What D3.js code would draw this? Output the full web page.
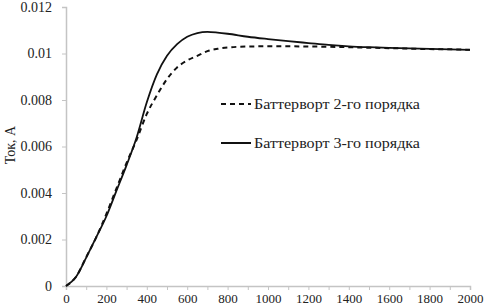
<!DOCTYPE html>
<html>
<head>
<meta charset="utf-8">
<script src="https://cdn.jsdelivr.net/npm/d3@7"></script>
<style>
  body { margin: 0; background: #fff; }
  text { font-family: "Liberation Serif", "Times New Roman", serif; fill: #222; }
</style>
</head>
<body>
<div id="chart"></div>
<script>
// data
const timeSteps = [0, 50, 100, 150, 200, 250, 300, 350, 400, 450, 500, 550, 600, 650, 700, 750, 800,
  900, 1000, 1100, 1200, 1300, 1400, 1500, 1600, 1700, 1800, 1900, 2000];
const butter2 = [0, 0.0004, 0.00124, 0.0021, 0.0031, 0.0042, 0.0053, 0.0063, 0.0074, 0.0082, 0.0089,
  0.0094, 0.0097, 0.0099, 0.0101, 0.0102, 0.01026,
  0.0103, 0.01031, 0.01031, 0.0103, 0.01029, 0.01027, 0.01025, 0.01023, 0.01021, 0.01019, 0.01018, 0.01016];
const butter3 = [0, 0.0004, 0.00122, 0.0021, 0.003, 0.0041, 0.0052, 0.0064, 0.0079, 0.0091, 0.0099,
  0.0104, 0.01072, 0.01088, 0.01093, 0.0109, 0.01085,
  0.01072, 0.01062, 0.01053, 0.01045, 0.01037, 0.01031, 0.01027, 0.01024, 0.01022, 0.0102, 0.01018, 0.01016];
const yTicks = [0, 0.002, 0.004, 0.006, 0.008, 0.01, 0.012];
const xTicks = [0, 200, 400, 600, 800, 1000, 1200, 1400, 1600, 1800, 2000];
const legendLabels = ["Баттерворт 2-го порядка", "Баттерворт 3-го порядка"];

const width = 489, height = 307;
const margin = { top: 7, right: 19, bottom: 21, left: 66 };
const w = width - margin.left - margin.right;
const h = height - margin.top - margin.bottom;

const svg = d3.select("#chart").append("svg")
  .attr("width", width)
  .attr("height", height);

const g = svg.append("g")
  .attr("transform", `translate(${margin.left}, ${margin.top})`);

// scales
const x = d3.scaleLinear().domain([0, 2000]).range([0, w]);
const y = d3.scaleLinear().domain([0, 0.012]).range([h, 0]);

// axes
const yAxis = g.append("g")
  .call(d3.axisLeft(y).tickValues(yTicks).tickSize(4).tickPadding(10)
    .tickFormat(d => d === 0 ? "0" : d3.format("")(+d.toFixed(3))));
yAxis.select(".domain").attr("stroke", "#c4c4c4").attr("stroke-width", 1.5);
yAxis.selectAll(".tick line").attr("stroke", "#c4c4c4");
yAxis.selectAll("text").style("font-size", "14px").attr("fill", "#222");

const xAxis = g.append("g")
  .attr("transform", `translate(0, ${h})`)
  .call(d3.axisBottom(x).tickValues(d3.range(0, 2001, 100)).tickSize(4).tickPadding(4)
    .tickFormat(d => xTicks.includes(d) ? d : ""));
xAxis.select(".domain").attr("stroke", "#c4c4c4").attr("stroke-width", 1.5);
xAxis.selectAll(".tick line").attr("stroke", "#c4c4c4");
xAxis.selectAll("text").style("font-size", "13px").attr("fill", "#222");

// lines
const line = d3.line()
  .x((d, i) => x(timeSteps[i]))
  .y(d => y(d))
  .curve(d3.curveMonotoneX);

g.append("path")
  .attr("d", line(butter2))
  .attr("fill", "none")
  .attr("stroke", "#111")
  .attr("stroke-width", 2)
  .attr("stroke-dasharray", "5,4");

g.append("path")
  .attr("d", line(butter3))
  .attr("fill", "none")
  .attr("stroke", "#111")
  .attr("stroke-width", 1.8);

// legend
const legend = svg.append("g");
legendLabels.forEach((label, i) => {
  const ly = 104 + i * 39;
  legend.append("line")
    .attr("x1", 221).attr("x2", 251)
    .attr("y1", ly).attr("y2", ly)
    .attr("stroke", "#111")
    .attr("stroke-width", 2)
    .attr("stroke-dasharray", i === 0 ? "5,4" : null);
  legend.append("text")
    .attr("x", 254)
    .attr("y", ly + 5)
    .attr("textLength", 166)
    .attr("lengthAdjust", "spacingAndGlyphs")
    .style("font-size", "14px")
    .text(label);
});

// y axis label
svg.append("text")
  .attr("text-anchor", "middle")
  .attr("transform", "rotate(-90)")
  .attr("x", -145)
  .attr("y", 15)
  .style("font-size", "14px")
  .text("Ток, А");
</script>
</body>
</html>
